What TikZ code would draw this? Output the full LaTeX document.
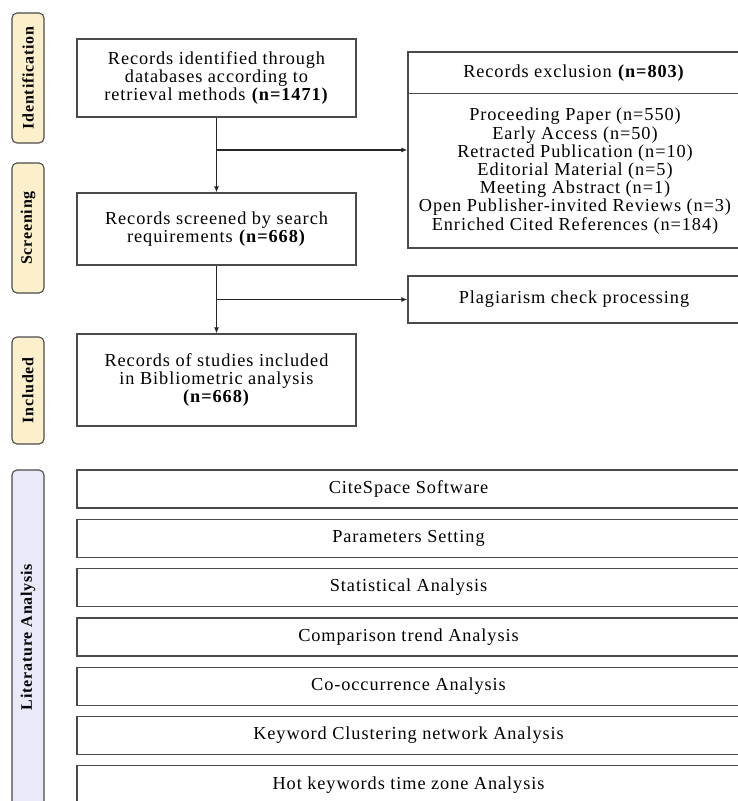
\documentclass[tikz,border=0pt]{standalone}
\usepackage{fontspec}
\setmainfont{Liberation Serif}[LetterSpace=5]
\usetikzlibrary{arrows.meta}
\definecolor{edge}{HTML}{4A4A4A}
\definecolor{cream}{HTML}{FCEFCB}
\definecolor{lav}{HTML}{E9E9FA}
\tikzset{
  box/.style={draw=edge, line width=1.3pt, fill=white, inner sep=0pt, align=center,
    font=\fontsize{18.3}{18.4}\selectfont},
  side/.style={draw=edge, line width=1.1pt, rounded corners=5pt, minimum width=32pt,
    inner sep=0pt, align=center},
  sidetext/.style={rotate=90, font=\fontsize{16}{17}\selectfont\bfseries},
  conn/.style={draw=black!85, line width=1.1pt},
  arr/.style={conn, -{Latex[length=6pt,width=5pt]}},
  lit/.style={box, minimum width=663pt, minimum height=38pt},
}
\begin{document}
\begin{tikzpicture}[x=1pt,y=-1pt]
\useasboundingbox (0,0) rectangle (737,801);
% side labels
\node[side, fill=cream, minimum height=130pt] (sid) at (28,78) {};
\node[sidetext] (tid) at (sid.center) {Identification};
\node[side, fill=cream, minimum height=130pt] (ssc) at (28,228) {};
\node[sidetext] (tsc) at (ssc.center) {Screening};
\node[side, fill=cream, minimum height=107pt] (sin) at (28,390.5) {};
\node[sidetext] (tin) at (sin.center) {Included};
\node[side, fill=lav, minimum height=340pt] (sla) at (28,640) {};
\node[sidetext] (tla) at (28,637) {Literature Analysis};
% main flow
\node[box, minimum width=279pt, minimum height=78pt] (b1) at (216.5,78)
  {Records identified through\\databases according to\\retrieval methods \textbf{(n=1471)}};
\node[box, minimum width=279pt, minimum height=72pt] (b2) at (216.5,229)
  {Records screened by search\\requirements \textbf{(n=668)}};
\node[box, minimum width=279pt, minimum height=92pt] (b3) at (216.5,380)
  {Records of studies included\\in Bibliometric analysis\\\textbf{(n=668)}};
\node[box, minimum width=332pt, minimum height=196pt] (ex) at (574,150) {};
\node[font=\fontsize{18.3}{18.4}\selectfont] (exh) at (574,73) {Records exclusion \textbf{(n=803)}};
\draw[draw=edge, line width=0.8pt] (ex.west |- 0,93) coordinate (d1) -- (ex.east |- 0,93) coordinate (d2);
\node[align=center, font=\fontsize{18.3}{18.2}\selectfont, inner sep=0pt] (exl) at (575,171)
  {Proceeding Paper (n=550)\\Early Access (n=50)\\Retracted Publication (n=10)\\Editorial Material (n=5)\\Meeting Abstract (n=1)\\Open Publisher-invited Reviews (n=3)\\Enriched Cited References (n=184)};
\node[box, minimum width=332pt, minimum height=47pt] (pl) at (574,299.5) {Plagiarism check processing};
% connectors
\draw[arr] (b1) -- (b2);
\draw[arr] (b2) -- (b3);
\coordinate (j1) at (b1.south |- 0,150);
\coordinate (j2) at (b2.south |- 0,299.5);
\draw[arr] (j1) -- (ex.west |- j1);
\draw[arr] (j2) -- (pl.west |- j2);
% literature analysis boxes
\node[lit] (l1) at (408.5,489) {CiteSpace Software};
\node[lit] (l2) at (408.5,538.3) {Parameters Setting};
\node[lit] (l3) at (408.5,587.6) {Statistical Analysis};
\node[lit] (l4) at (408.5,636.9) {Comparison trend Analysis};
\node[lit] (l5) at (408.5,686.2) {Co-occurrence Analysis};
\node[lit] (l6) at (408.5,735.5) {Keyword Clustering network Analysis};
\node[lit] (l7) at (408.5,784.8) {Hot keywords time zone Analysis};
\end{tikzpicture}
\end{document}
